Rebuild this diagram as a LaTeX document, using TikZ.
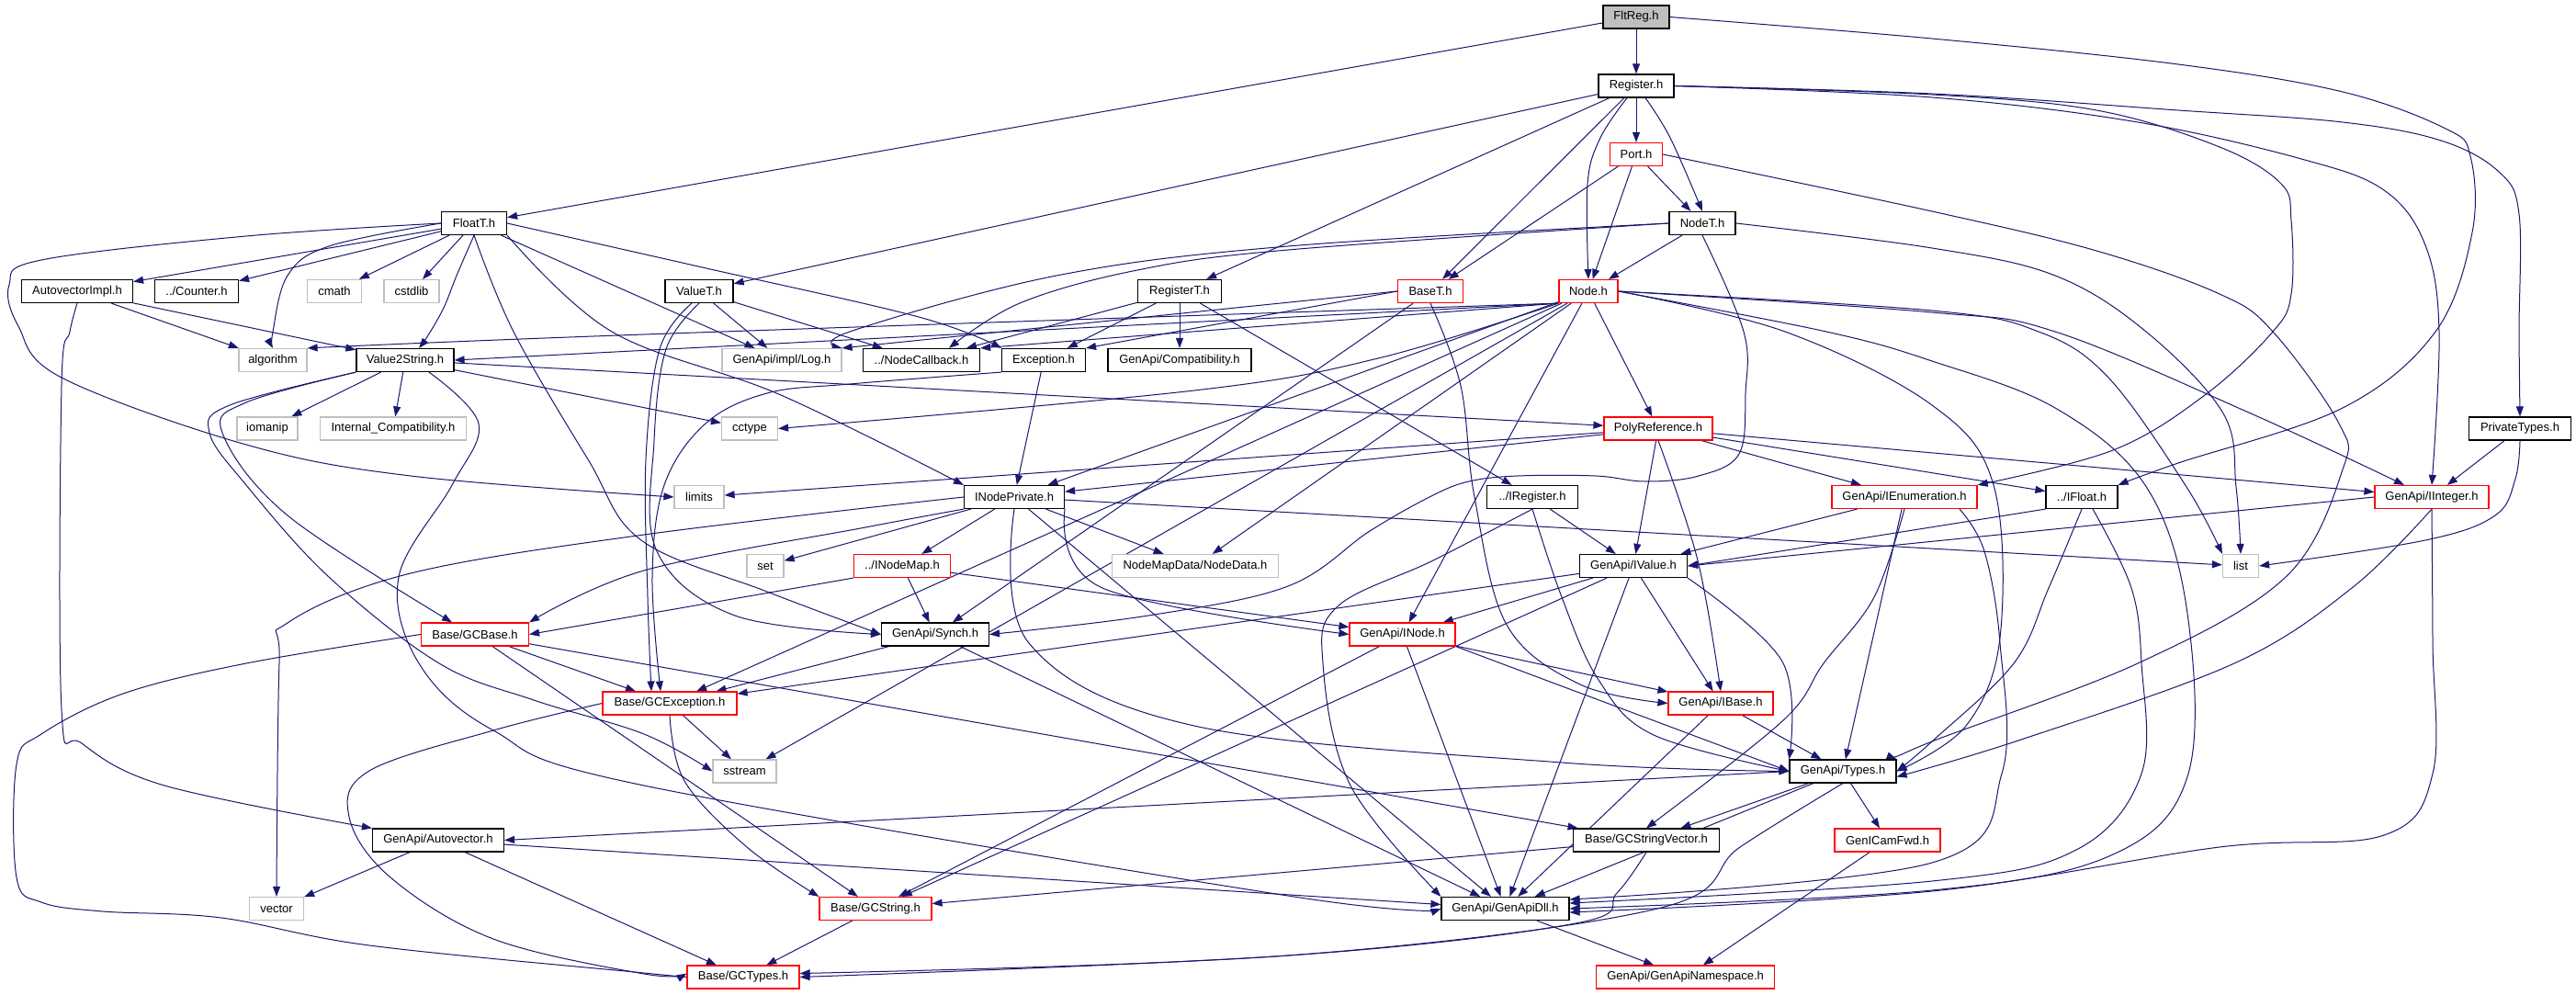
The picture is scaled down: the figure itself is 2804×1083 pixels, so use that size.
\documentclass[tikz,border=0pt]{standalone}
\usepackage{fontspec}
\setmainfont{Liberation Sans}
\usetikzlibrary{arrows.meta,calc}
\definecolor{edgec}{HTML}{191970}
\definecolor{lgray}{HTML}{BFBFBF}
\pgfdeclarelayer{edgelayer}
\pgfsetlayers{edgelayer,main}
\begin{document}
\begin{tikzpicture}[x=1pt,y=-1pt,
  box/.style={draw=black, line width=1.2pt, fill=white, minimum height=25pt, inner sep=0pt, font=\fontsize{13pt}{15pt}\selectfont},
  rbox/.style={box, draw=red},
  gbox/.style={box, draw=lgray},
  e/.style={draw=edgec, line width=1.0pt, -{Triangle[length=11pt,width=8pt]}},
  sm/.style={smooth, tension=0.6}]
\useasboundingbox (0,0) rectangle (2804,1083);
% nodes
\node[box,fill=lgray,minimum width=72pt] (fltreg) at (1781,18.5) {FltReg.h};
\node[box,minimum width=82pt] (register) at (1781,93.5) {Register.h};
\node[rbox,minimum width=57pt] (port) at (1781,168) {Port.h};
\node[box,minimum width=72pt] (nodet) at (1853,243) {NodeT.h};
\node[rbox,minimum width=71pt] (baset) at (1557,317) {BaseT.h};
\node[rbox,minimum width=64pt] (node) at (1729,317) {Node.h};
\node[box,minimum width=71pt] (floatt) at (516,243) {FloatT.h};
\node[box,minimum width=121pt] (autovimpl) at (84,317) {AutovectorImpl.h};
\node[box,minimum width=91pt] (counter) at (214,317) {../Counter.h};
\node[gbox,minimum width=59pt] (cmath) at (364,317) {cmath};
\node[gbox,minimum width=60pt] (cstdlib) at (448,317) {cstdlib};
\node[box,minimum width=74pt] (valuet) at (761,317) {ValueT.h};
\node[box,minimum width=91pt] (registert) at (1284,317) {RegisterT.h};
\node[gbox,minimum width=74pt] (algorithm) at (297,392) {algorithm};
\node[box,minimum width=106pt] (v2s) at (441,392) {Value2String.h};
\node[gbox,minimum width=66pt] (iomanip) at (291,466.5) {iomanip};
\node[gbox,minimum width=159pt] (intcompat) at (428,466.5) {Internal\_Compatibility.h};
\node[rbox,minimum width=117pt] (gcbase) at (517,690.5) {Base/GCBase.h};
\node[gbox,minimum width=130pt] (log) at (851,392) {GenApi/impl/Log.h};
\node[box,minimum width=127pt] (nodecb) at (1003,392) {../NodeCallback.h};
\node[box,minimum width=91pt] (exception) at (1136,392) {Exception.h};
\node[box,minimum width=156pt] (compat) at (1284,392) {GenApi/Compatibility.h};
\node[gbox,minimum width=61pt] (cctype) at (816,466.5) {cctype};
\node[gbox,minimum width=54pt] (limits) at (761,541) {limits};
\node[box,minimum width=109pt] (inodepriv) at (1104,541) {INodePrivate.h};
\node[gbox,minimum width=40pt] (set) at (833,616) {set};
\node[rbox,minimum width=105pt] (inodemap) at (982,616) {../INodeMap.h};
\node[gbox,minimum width=181pt] (nodedata) at (1301,616) {NodeMapData/NodeData.h};
\node[box,minimum width=117pt] (synch) at (1018,690.5) {GenApi/Synch.h};
\node[rbox,minimum width=118pt] (polyref) at (1805,466.5) {PolyReference.h};
\node[box,minimum width=99pt] (iregister) at (1668,541) {../IRegister.h};
\node[box,minimum width=117pt] (ivalue) at (1778,616) {GenApi/IValue.h};
\node[rbox,minimum width=158pt] (ienum) at (2073,541) {GenApi/IEnumeration.h};
\node[box,minimum width=78pt] (ifloat) at (2266,541) {../IFloat.h};
\node[rbox,minimum width=124pt] (iinteger) at (2647,541) {GenApi/IInteger.h};
\node[gbox,minimum width=39pt] (list) at (2439,616) {list};
\node[box,minimum width=111pt] (privtypes) at (2743,466.5) {PrivateTypes.h};
\node[rbox,minimum width=115pt] (inode) at (1526.5,690.5) {GenApi/INode.h};
\node[gbox,minimum width=59pt] (vector) at (301,989) {vector};
\node[box,minimum width=143pt] (autovec) at (477,914.5) {GenApi/Autovector.h};
\node[rbox,minimum width=146pt] (gcexception) at (729,765.5) {Base/GCException.h};
\node[gbox,minimum width=69pt] (sstream) at (810.5,839.5) {sstream};
\node[rbox,minimum width=122pt] (gcstring) at (953,989) {Base/GCString.h};
\node[rbox,minimum width=122pt] (gctypes) at (809,1063.5) {Base/GCTypes.h};
\node[rbox,minimum width=114pt] (ibase) at (1873,765.5) {GenApi/IBase.h};
\node[box,minimum width=116pt] (types) at (2006,839.5) {GenApi/Types.h};
\node[box,minimum width=159pt] (gcstrvec) at (1792,914.5) {Base/GCStringVector.h};
\node[rbox,minimum width=115pt] (genicamfwd) at (2054.5,914.5) {GenICamFwd.h};
\node[box,minimum width=139pt] (genapidll) at (1638.5,989) {GenApi/GenApiDll.h};
\node[rbox,minimum width=194pt] (namespace) at (1834.6,1063.5) {GenApi/GenApiNamespace.h};
% edges
\begin{pgfonlayer}{edgelayer}
\fill[white] (0,0) rectangle (2804,1083);
\foreach \a/\b in {fltreg/register, fltreg/floatt,
 register/port, register/baset, register/valuet, register/registert,
 port/baset, port/node, port/nodet, nodet/node,
 floatt/autovimpl, floatt/counter, floatt/cmath, floatt/cstdlib, floatt/log,
 autovimpl/algorithm, autovimpl/v2s, valuet/log, valuet/nodecb,
 registert/nodecb, registert/exception, registert/compat, registert/iregister,
 v2s/iomanip, v2s/intcompat, v2s/cctype, v2s/polyref, exception/inodepriv,
 inodepriv/set, inodepriv/inodemap, inodepriv/nodedata, inodepriv/list, inodepriv/genapidll,
 inodemap/synch, inodemap/inode, synch/gcexception, synch/genapidll,
 polyref/limits, polyref/inodepriv, polyref/ivalue, polyref/ienum, polyref/ifloat, polyref/iinteger,
 iregister/ivalue, ivalue/inode, ivalue/ibase, ivalue/genapidll, ivalue/gcstring, ivalue/gcexception,
 ienum/ivalue, ienum/types, privtypes/iinteger,
 inode/ibase, inode/genapidll, inode/gcstring, ibase/types, ibase/genapidll,
 types/genapidll, types/gcstrvec, types/genicamfwd,
 gcbase/gcexception, gcbase/gcstring, gcbase/gcstrvec, gcexception/sstream,
 gcstring/gctypes, gcstrvec/gcstring, genapidll/namespace, genicamfwd/namespace,
 autovec/vector, autovec/gctypes, autovec/genapidll,
 node/inodepriv, node/nodedata, node/polyref, node/inode, node/gcexception, node/sstream, baset/synch}
 {\draw[e] (\a) -- (\b);}
\draw[e] (node.south west) -- (v2s.east);
\draw[e] (node.south west) -- (nodecb.north east);
\draw[e] (baset.west) -- (log.north east);
\draw[e] (baset.west) -- (exception.north east);
\draw[e] (inodemap.south west) -- (gcbase.east);
\draw[e] (ifloat.south west) -- (ivalue.east);
\draw[e] (iinteger.west) -- (ivalue.east);
\draw[e] (inode.south east) -- (types.west);
\draw[e] (types.west) -- (autovec.east);
% curved edges
\draw[e] plot[sm] coordinates {(fltreg.east) (2103,42) (2371,70) (2550,100) (2662,140) (2689,170) (2691,253) (2651,361) (2550,444) (2371,504) (ifloat.north east)};
\draw[e] plot[sm] coordinates {(register.east) (2103,102) (2371,120) (2550,133) (2657,153) (2720,187) (2742,233) (2742,361) (privtypes.north)};
\draw[e] plot[sm] coordinates {(register.east) (2103,103) (2282,120) (2416,160) (2483,200) (2494,240) (2494,320) (2474,361) (2400,430) (2300,490) (ienum.north east)};
\draw[e] plot[sm] coordinates {(register.east) (2103,106) (2327,133) (2505,173) (2595,207) (2640,267) (2655,361) (iinteger.north)};
\draw[e] plot[sm] coordinates {(port.east) (2103,230) (2282,273) (2416,320) (2474,361) (2546,461) (2550,511) (2488,628) (2327,722) (2103,807) (types.north east)};
\draw[e] plot[sm] coordinates {(nodet.east) (2103,270) (2237,300) (2336,361) (2420,450) (2434,530) (list.north)};
\draw[e] plot[sm] coordinates {(node.east) (2103,338) (2219,361) (2295,411) (2380,530) (list.north west)};
\draw[e] plot[sm] coordinates {(node.east) (2103,340) (2237,361) (2450,450) ($(iinteger.north)+(-30,0)$)};
\draw[e] plot[sm] coordinates {(node.east) (1943,361) (2103,441) (2170,528) (2177,694) (2140,790) (types.east)};
\draw[e] plot[sm] coordinates {(node.east) (1988,361) (2103,393) (2237,444) (2335,528) (2380,661) (2382,842) (2300,930) (2103,969) (genapidll.east)};
\draw[e] plot[sm] coordinates {(ifloat.south) (2230,640) (2192,722) (2103,807) (types.east)};
\draw[e] plot[sm] coordinates {(iinteger.south) (2560,640) (2432,722) (2200,805) ($(types.east)+(0,6)$)};
\draw[e] plot[sm] coordinates {($(ifloat.south)+(12,0)$) (2320,640) (2331,722) (2331,842) (2260,925) (2103,959) ($(genapidll.east)+(0,-6)$)};
\draw[e] plot[sm] coordinates {(iinteger.south) (2648,700) (2648,842) (2595,909) (2416,922) (2103,970) ($(genapidll.east)+(0,4)$)};
\draw[e] plot[sm] coordinates {($(ienum.south)+(60,0)$) (2160,600) (2177,700) (2179,842) (2103,939) ($(genapidll.east)+(0,-10)$)};
\draw[e] plot[sm] coordinates {(floatt.west) (268,257) (45,283) (10,310) (20,355) (67,411) (268,484) (447,518) (limits.west)};
\draw[e] plot[sm] coordinates {(floatt.west) (358,268) (313,300) (297,361) (algorithm.north)};
\draw[e] plot[sm] coordinates {(floatt.south) (497,300) (483,335) (466,365) ($(v2s.north)+(15,0)$)};
\draw[e] plot[sm] coordinates {(floatt.south) (559,361) (640,500) (698,588) (835,644) (synch.west)};
\draw[e] plot[sm] coordinates {(floatt.south east) (666,361) (850,430) (inodepriv.north west)};
\draw[e] plot[sm] coordinates {(floatt.east) (760,290) (1000,345) (exception.north west)};
\draw[e] plot[sm] coordinates {(autovimpl.south) (76,361) (67,420) (67,772) (89,809) (179,855) (autovec.north west)};
\draw[e] plot[sm] coordinates {(v2s.south west) (268,438) (242,471) (313,561) ($(gcbase.north)+(-25,0)$)};
\draw[e] plot[sm] coordinates {(v2s.south west) (250,441) (228,471) (268,528) (358,628) (478,722) (581,762) (701,799) (sstream.west)};
\draw[e] plot[sm] coordinates {($(v2s.south)+(26,0)$) (521,461) (492,528) (434,628) (456,722) (537,795) (701,855) (1402,975) (genapidll.west)};
\draw[e] plot[sm] coordinates {(inodepriv.west) (701,582) (447,624) (313,678) (304,722) (vector.north)};
\draw[e] plot[sm] coordinates {(inodepriv.south west) (942,574) (701,621) (gcbase.north east)};
\draw[e] plot[sm] coordinates {(inodepriv.south) (1120,700) (1300,790) (1700,830) (types.west)};
\draw[e] plot[sm] coordinates {(inodepriv.south east) (1200,640) (inode.west)};
\draw[e] plot[sm] coordinates {(gcbase.west) (268,722) (134,755) (45,799) (18,832) (18,955) (45,982) (112,992) (241,999) (402,1029) (701,1059) (gctypes.west)};
\draw[e] plot[sm] coordinates {(gcexception.west) (537,795) (402,839) (380,889) (425,955) (537,1022) (701,1060) ($(gctypes.west)+(0,-4)$)};
\draw[e] plot[sm] coordinates {(exception.south west) (925,418) (835,428) (768,461) (723,528) (710,628) ($(gcexception.north)+(-10,0)$)};
\draw[e] plot[sm] coordinates {(valuet.south) (725,380) (712,480) (715,600) (800,670) (synch.west)};
\draw[e] plot[sm] coordinates {($(valuet.south)+(-8,0)$) (718,380) (703,500) (705,650) ($(gcexception.north)+(-20,0)$)};
\draw[e] plot[sm] coordinates {(nodet.south) (1898,361) (1900,428) (1893,494) (1849,518) (1791,524) (1737,518) (1652,518) (1599,524) (1558,540) (1491,578) (1402,638) (1250,670) (synch.east)};
\draw[e] plot[sm] coordinates {(nodet.west) (1402,268) (1150,300) (925,361) (log.north east)};
\draw[e] plot[sm] coordinates {(nodet.west) (1402,272) (1238,294) (1110,330) ($(nodecb.north)+(30,0)$)};
\draw[e] plot[sm] coordinates {(privtypes.south) (2738,521) (2716,561) (2640,588) (list.east)};
\draw[e] plot[sm] coordinates {($(register.south)+(-10,0)$) (1742,150) (1728,200) (node.north)};
\draw[e] plot[sm] coordinates {($(register.south)+(10,0)$) (1818,150) (nodet.north)};
\draw[e] plot[sm] coordinates {(baset.south) (1590,420) (1605,541) (1640,680) (1720,745) (ibase.west)};
\draw[e] plot[sm] coordinates {(node.south west) (701,364) (algorithm.north east)};
\draw[e] plot[sm] coordinates {(node.south west) (1500,390) (1300,425) (cctype.east)};
\draw[e] plot[sm] coordinates {(ienum.south) (2040,650) (1985,722) (1940,785) (gcstrvec.north)};
\draw[e] plot[sm] coordinates {(iregister.south) (1700,650) (1740,740) (1800,800) (types.west)};
\draw[e] plot[sm] coordinates {(iregister.south) (1560,610) (1456,660) (1440,722) (1470,855) (genapidll.north west)};
\draw[e] plot[sm] coordinates {(gcexception.south) (745,850) (813,922) (gcstring.north west)};
\draw[e] plot[sm] coordinates {(gcstrvec.south) (1760,972) (1715,1005) (1402,1040) (gctypes.east)};
\draw[e] plot[sm] coordinates {(types.south) (1894,922) (1804,989) (1402,1040) ($(gctypes.east)+(0,-4)$)};
\draw[e] plot[sm] coordinates {(ivalue.south east) (1940,720) (types.north west)};
\draw[e] plot[sm] coordinates {(polyref.south) (1848,610) (ibase.north)};
\end{pgfonlayer}
\end{tikzpicture}
\end{document}
